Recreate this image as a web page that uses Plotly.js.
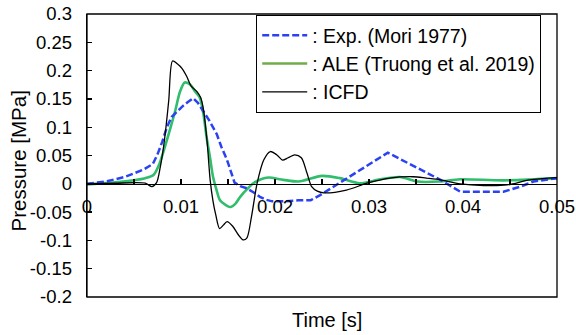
<!DOCTYPE html>
<html>
<head>
<meta charset="utf-8">
<script src="https://cdn.plot.ly/plotly-3.0.1.min.js"></script>
<style>html,body{margin:0;padding:0;background:#fff;}#chart{width:576px;height:335px;}</style>
</head>
<body>
<div id="chart"></div>
<script>
// Exp. (Mori 1977)
var expT = [0, 0.002, 0.004, 0.006, 0.007, 0.0075, 0.008, 0.0085, 0.009, 0.0095, 0.0101, 0.0107, 0.0113, 0.0118, 0.0124, 0.013, 0.0138, 0.0143, 0.0149, 0.0153, 0.0157, 0.0163, 0.017, 0.0177, 0.0184, 0.019, 0.0197, 0.021, 0.0225, 0.0238, 0.0248, 0.032, 0.0376, 0.0397, 0.0443, 0.0461, 0.0475, 0.05];
var expP = [0, 0.004, 0.012, 0.025, 0.035, 0.052, 0.074, 0.1, 0.118, 0.127, 0.136, 0.144, 0.151, 0.143, 0.128, 0.112, 0.088, 0.065, 0.042, 0.02, 0.002, -0.004, -0.008, -0.015, -0.023, -0.028, -0.031, -0.031, -0.029, -0.029, -0.02, 0.055, 0.007, -0.014, -0.014, -0.005, 0.004, 0.01];
// ALE (Truong et al. 2019)
var aleT = [0, 0.0033, 0.0062, 0.0071, 0.0077, 0.0083, 0.0089, 0.0094, 0.0099, 0.0104, 0.011, 0.0115, 0.012, 0.0124, 0.0127, 0.0131, 0.0134, 0.0138, 0.01415, 0.015, 0.0153, 0.0158, 0.0163, 0.017, 0.0177, 0.0185, 0.0193, 0.0209, 0.0225, 0.025, 0.0269, 0.029, 0.0312, 0.0333, 0.0351, 0.0375, 0.0397, 0.0443, 0.05];
var aleP = [-0.001, 0.003, 0.01, 0.016, 0.035, 0.066, 0.1, 0.13, 0.163, 0.179, 0.175, 0.163, 0.152, 0.122, 0.085, 0.045, 0.013, -0.012, -0.029, -0.040, -0.041, -0.035, -0.023, -0.01, 0.001, 0.008, 0.011, 0.007, 0.004, 0.014, 0.01, 0.001, 0.008, 0.012, 0.004, 0.004, 0.008, 0.006, 0.01];
// ICFD
var icfdT = [0, 0.003, 0.0062, 0.0069, 0.0074, 0.0078, 0.0081, 0.0084, 0.0087, 0.0091, 0.0096, 0.0101, 0.0106, 0.0111, 0.0117, 0.0121, 0.0124, 0.0128, 0.0131, 0.0134, 0.0137, 0.0141, 0.0145, 0.0149, 0.0155, 0.0161, 0.0166, 0.017, 0.0175, 0.0181, 0.0188, 0.0195, 0.0202, 0.0208, 0.0214, 0.0221, 0.0228, 0.0234, 0.0239, 0.0245, 0.0252, 0.0276, 0.0298, 0.0322, 0.0347, 0.0361, 0.0376, 0.0397, 0.0422, 0.0447, 0.0471, 0.05];
var icfdP = [0, 0.001, 0.001, -0.005, 0.002, 0.03, 0.06, 0.1, 0.148, 0.217, 0.212, 0.204, 0.19, 0.172, 0.163, 0.152, 0.13, 0.07, 0.007, -0.03, -0.055, -0.079, -0.073, -0.067, -0.075, -0.09, -0.099, -0.096, -0.058, 0.001, 0.042, 0.057, 0.051, 0.042, 0.046, 0.051, 0.046, 0.019, -0.005, -0.013, -0.016, -0.011, 0.001, 0.01, 0.0125, 0.01, 0.007, 0.0, -0.003, -0.002, 0.007, 0.011];

var seriesNames = [': Exp. (Mori 1977)', ': ALE (Truong et al. 2019)', ': ICFD'];
var xTickVals = [0, 0.01, 0.02, 0.03, 0.04, 0.05];
var xTickLabels = ['0', '0.01', '0.02', '0.03', '0.04', '0.05'];
var yTickVals = [-0.2, -0.15, -0.1, -0.05, 0, 0.05, 0.1, 0.15, 0.2, 0.25, 0.3];
var yTickLabels = ['-0.2', '-0.15', '-0.1', '-0.05', '0', '0.05', '0.1', '0.15', '0.2', '0.25', '0.3'];
var xTitle = 'Time [s]';
var yTitle = 'Pressure [MPa]';

var FONT = 'Liberation Sans, Arial, sans-serif';
var blue = '#2b42f2', greenPlot = '#30bd6c', greenLegend = '#70ad47', black = '#000000';

var traces = [
  {x: aleT, y: aleP, mode: 'lines', line: {color: greenPlot, width: 2.6, shape: 'spline', smoothing: 0.8}, showlegend: false, hoverinfo: 'skip'},
  {x: expT, y: expP, mode: 'lines', line: {color: blue, width: 2.5, dash: '7px,3px'}, showlegend: false, hoverinfo: 'skip'},
  {x: icfdT, y: icfdP, mode: 'lines', line: {color: black, width: 1.3, shape: 'spline', smoothing: 0.8}, showlegend: false, hoverinfo: 'skip'},
  {x: [null], y: [null], mode: 'lines', name: seriesNames[0], line: {color: blue, width: 2.5, dash: '7px,3px'}, legendgroup: 'a'},
  {x: [null], y: [null], mode: 'lines', name: seriesNames[1], line: {color: greenLegend, width: 2.5}, legendgroup: 'b'},
  {x: [null], y: [null], mode: 'lines', name: seriesNames[2], line: {color: black, width: 1.3}, legendgroup: 'c'}
];

var layout = {
  width: 576, height: 335,
  margin: {l: 87, r: 19, t: 14, b: 38},
  paper_bgcolor: '#fff', plot_bgcolor: '#fff',
  font: {family: FONT, size: 18, color: '#000'},
  showlegend: true,
  legend: {x: 0.36, y: 0.9965, xanchor: 'left', yanchor: 'top', bgcolor: '#fff', bordercolor: '#000', borderwidth: 1,
           font: {family: FONT, size: 19.5, color: '#000'}, itemwidth: 45, traceorder: 'grouped', tracegroupgap: 0},
  xaxis: {range: [0, 0.05], anchor: 'free', position: 0.4, showgrid: false, zeroline: false,
          showline: true, linecolor: '#000', linewidth: 1.3,
          tickmode: 'array', tickvals: xTickVals, ticktext: xTickLabels,
          ticks: 'inside', ticklen: 5, tickcolor: '#000', tickwidth: 1.3, ticklabelstandoff: 6,
          minor: {tickmode: 'linear', tick0: 0, dtick: 0.005, ticks: 'inside', ticklen: 5, tickcolor: '#000', tickwidth: 1.3},
          tickfont: {family: FONT, size: 18.5, color: '#000'}, fixedrange: true},
  yaxis: {range: [-0.2, 0.3], domain: [0, 1], showgrid: false, zeroline: false,
          showline: true, linecolor: '#000', linewidth: 1.3,
          tickmode: 'array', tickvals: yTickVals, ticktext: yTickLabels,
          ticks: 'inside', ticklen: 5, tickcolor: '#000', tickwidth: 1.3, ticklabelstandoff: 10,
          tickfont: {family: FONT, size: 18.5, color: '#000'}, automargin: false, fixedrange: true},
  shapes: [{type: 'rect', xref: 'paper', yref: 'paper', x0: 0, x1: 1, y0: 0, y1: 1, line: {color: '#000', width: 1.3}}],
  annotations: [
    {text: xTitle, xref: 'paper', yref: 'paper', x: 0.51, y: -0.081, xanchor: 'center', yanchor: 'middle', showarrow: false,
     font: {family: FONT, size: 20, color: '#000'}},
    {text: yTitle, xref: 'paper', yref: 'paper', x: -0.145, y: 0.482, xanchor: 'center', yanchor: 'middle', textangle: -90, showarrow: false,
     font: {family: FONT, size: 20.5, color: '#000'}}
  ]
};

Plotly.newPlot('chart', traces, layout, {staticPlot: true, displayModeBar: false});
</script>
</body>
</html>
